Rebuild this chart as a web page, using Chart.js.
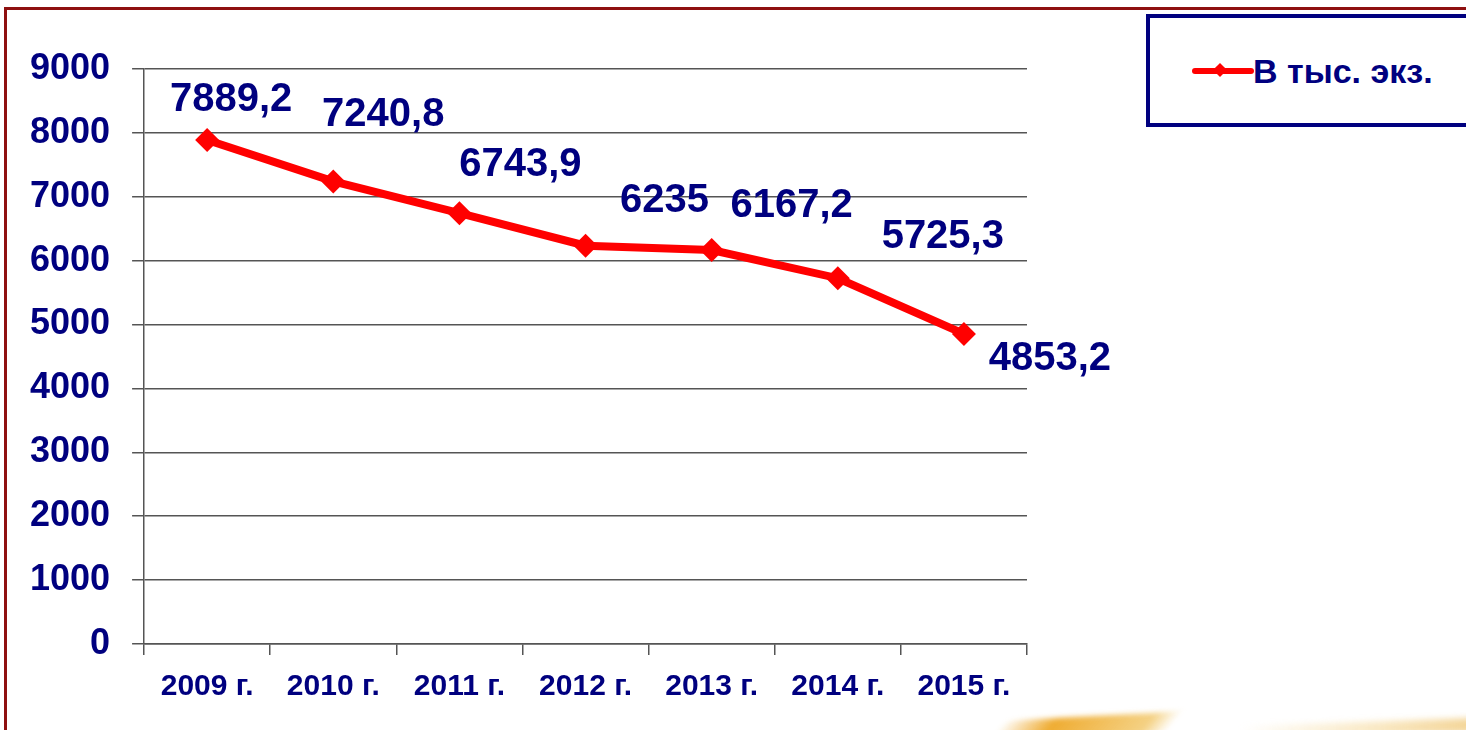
<!DOCTYPE html>
<html>
<head>
<meta charset="utf-8">
<script src="https://cdn.jsdelivr.net/npm/chart.js@4.4.1/dist/chart.umd.min.js"></script>
<style>
  html, body { margin: 0; padding: 0; background: #fff; overflow: hidden; }
  body { width: 1466px; height: 730px; position: relative; }
  #frame { position: absolute; left: 4px; top: 7px; width: 1500px; height: 800px;
           border-left: 3px solid #8e1010; border-top: 3px solid #8e1010; box-sizing: border-box; }
  #wrap { position: absolute; left: 0; top: 0; width: 1466px; height: 730px; }
  #legend { position: absolute; left: 1146px; top: 14px; width: 360px; height: 113px;
            border: 4px solid #00007f; box-sizing: border-box; background: #fff;
            font-family: "Liberation Sans", Arial, sans-serif; font-weight: bold; }
  #legend .sym { position: absolute; left: 42px; top: 50px; width: 62px; height: 6px;
                 background: #ff0000; border-radius: 3px; }
  #legend .dia { position: absolute; left: 65px; top: 47px; width: 10px; height: 10px;
                 background: #ff0000; transform: rotate(45deg); }
  #legend .txt { position: absolute; left: 103px; top: 34px; font-size: 34px; color: #00007f;
                 line-height: 38px; white-space: nowrap; }
  .swoosh { position: absolute; filter: blur(3px); }
</style>
</head>
<body>
<div id="frame"></div>
<div class="swoosh" style="left:1000px; top:716px; width:170px; height:22px; transform: skewX(-40deg) rotate(-3deg);
     background: linear-gradient(90deg, rgba(240,170,40,0) 0%, rgba(238,168,40,0.95) 30%, rgba(240,190,80,0.7) 85%, rgba(255,230,180,0) 100%);"></div>
<div class="swoosh" style="left:1240px; top:722px; width:240px; height:14px; transform: rotate(-2deg);
     background: linear-gradient(90deg, rgba(250,220,160,0) 0%, rgba(245,215,150,0.6) 60%, rgba(240,200,120,0.8) 100%);"></div>
<div id="wrap"><canvas id="c" width="1466" height="730"></canvas></div>
<div id="legend"><div class="sym"></div><div class="dia"></div><div class="txt" id="legtxt"></div></div>
<script>
const categories = ["2009 г.", "2010 г.", "2011 г.", "2012 г.", "2013 г.", "2014 г.", "2015 г."];
const values = [7889.2, 7240.8, 6743.9, 6235, 6167.2, 5725.3, 4853.2];
const seriesName = "В тыс. экз.";
const yTicks = [0, 1000, 2000, 3000, 4000, 5000, 6000, 7000, 8000, 9000];
// label placement offsets (px) relative to each point, as in the reference picture
const labelOffsets = [[24, -40], [50, -66], [61, -48], [79, -45], [80, -44], [105, -41], [86, 25]];

const NAVY = "#00007f";
const GRID = "#555555";

const dataLabels = {
  id: "dataLabels",
  afterDatasetsDraw(chart) {
    const ctx = chart.ctx;
    const meta = chart.getDatasetMeta(0);
    ctx.save();
    ctx.font = "bold 40px 'Liberation Sans', Arial, sans-serif";
    ctx.fillStyle = NAVY;
    ctx.textAlign = "center";
    ctx.textBaseline = "middle";
    meta.data.forEach((pt, i) => {
      const v = chart.data.datasets[0].data[i];
      const txt = String(v).replace(".", ",");
      const off = labelOffsets[i];
      ctx.fillText(txt, pt.x + off[0], pt.y + off[1]);
    });
    ctx.restore();
  }
};

const chart = new Chart(document.getElementById("c"), {
  type: "line",
  data: {
    labels: categories,
    datasets: [{
      label: seriesName,
      data: values,
      borderColor: "#ff0000",
      backgroundColor: "#ff0000",
      borderWidth: 8,
      pointStyle: "rectRot",
      pointRadius: 12,
      pointHoverRadius: 12,
      pointBorderWidth: 0,
      tension: 0,
      fill: false
    }]
  },
  options: {
    responsive: false,
    animation: false,
    devicePixelRatio: 1,
    layout: { padding: { left: 8, right: 439, top: 69, bottom: 11 } },
    plugins: { legend: { display: false }, tooltip: { enabled: false } },
    scales: {
      x: {
        offset: true,
        grid: { offset: true, drawOnChartArea: false, drawTicks: true, tickLength: 11, color: GRID, lineWidth: 1.5 },
        border: { display: true, color: GRID, width: 1.5 },
        ticks: { color: NAVY, padding: 14, maxRotation: 0,
                 font: { family: "'Liberation Sans', Arial, sans-serif", size: 30, weight: "bold" } }
      },
      y: {
        min: 0, max: 9000,
        afterBuildTicks(axis) { axis.ticks = yTicks.map(v => ({ value: v })); },
        grid: { drawTicks: true, tickLength: 12, color: GRID, lineWidth: 1.5 },
        border: { display: true, color: GRID, width: 1.5 },
        ticks: { color: NAVY, padding: 22, callback: (v) => String(v),
                 font: { family: "'Liberation Sans', Arial, sans-serif", size: 36, weight: "bold" } }
      }
    }
  },
  plugins: [dataLabels]
});
document.getElementById("legtxt").textContent = chart.data.datasets[0].label;
</script>
</body>
</html>
